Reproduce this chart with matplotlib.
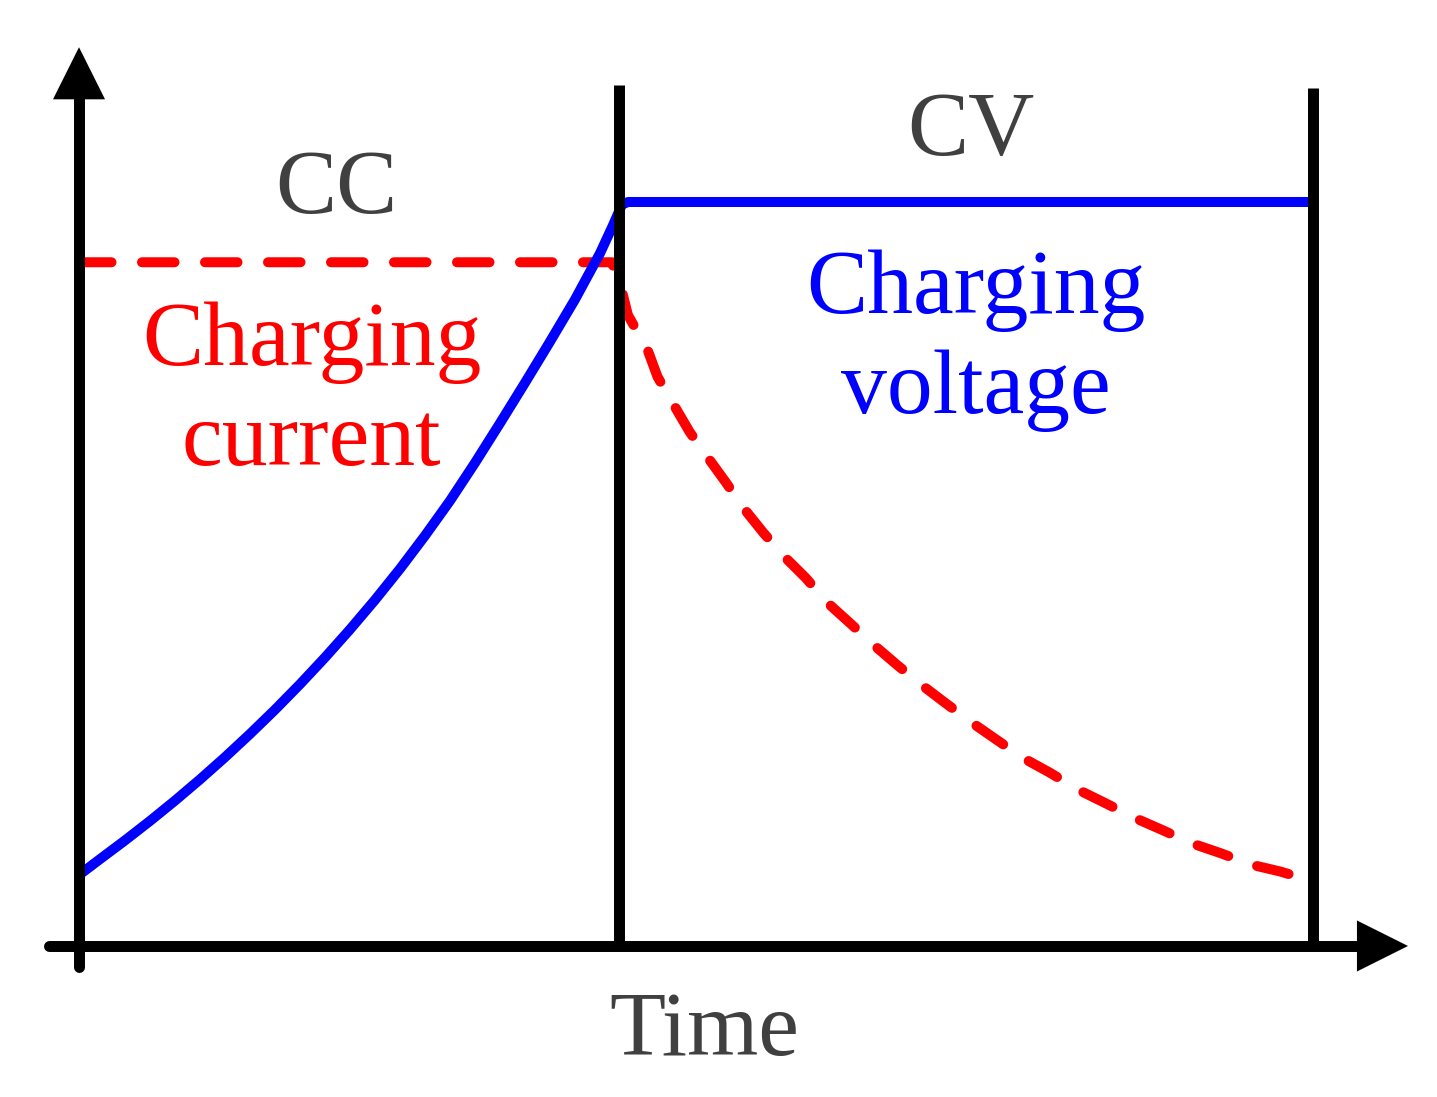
import matplotlib.pyplot as plt
from matplotlib.patches import Polygon

# time in arbitrary units (10 = end of CV phase), level in arbitrary units (10 = CV voltage)
voltage_t = [0.000, 0.170, 0.373, 0.576, 0.778, 0.981, 1.184, 1.387, 1.589, 1.792, 1.995,
             2.197, 2.400, 2.603, 2.805, 3.008, 3.211, 3.413, 3.616, 3.819, 4.021, 4.224,
             4.329, 4.402, 4.451, 10.000]
voltage_v = [0.954, 1.167, 1.419, 1.681, 1.953, 2.239, 2.538, 2.851, 3.176, 3.519, 3.879,
             4.255, 4.652, 5.071, 5.515, 5.985, 6.496, 7.027, 7.571, 8.125, 8.690, 9.312,
             9.688, 9.966, 10.000, 10.000]

current_t = [0.00, 4.32, 4.39, 4.45, 4.61, 4.69, 4.83, 4.95, 5.10, 5.24, 5.40, 5.55, 5.72,
             5.89, 6.07, 6.25, 6.44, 6.63, 6.83, 7.02, 7.24, 7.44, 7.65, 7.87, 8.10, 8.32,
             8.56, 8.78, 9.02, 9.25, 9.51, 9.74, 9.88]
current_i = [9.19, 9.19, 8.88, 8.48, 8.01, 7.65, 7.25, 6.91, 6.56, 6.24, 5.86, 5.55, 5.23,
             4.95, 4.61, 4.34, 4.05, 3.78, 3.51, 3.27, 3.00, 2.77, 2.53, 2.33, 2.10, 1.92,
             1.72, 1.56, 1.38, 1.25, 1.09, 1.00, 0.93]

phase_bounds = [4.374, 10.0]
phase_tops = [11.57, 11.53]
phase_labels = ["CC", "CV"]

GRAY = "#404040"
SERIF = ["Liberation Serif", "DejaVu Serif"]
FS = 66


def main() -> None:
    fig = plt.figure(figsize=(14.37, 10.97), dpi=100)
    ax = fig.add_axes([0, 0, 1, 1])
    ax.set_xlim(-0.6405, 11.009)
    ax.set_ylim(-2.030, 12.715)
    ax.axis("off")

    # curves
    ax.plot(current_t, current_i, color="#FF0000", lw=7.2, dashes=(3.25, 3.05),
            dash_capstyle="round", solid_joinstyle="round", zorder=2)
    ax.plot(voltage_t, voltage_v, color="#0000FF", lw=7.2, solid_capstyle="round",
            solid_joinstyle="round", zorder=3)

    # phase separators
    for t, top in zip(phase_bounds, phase_tops):
        ax.plot([t, t], [0, top], color="black", lw=7.9, solid_capstyle="butt", zorder=4)

    # axes with arrowheads
    ax.plot([0, 0], [-0.28, 11.40], color="black", lw=7.9, solid_capstyle="round", zorder=4)
    ax.add_patch(Polygon([[-0.211, 11.38], [0.211, 11.38], [0, 12.08]], closed=True,
                         facecolor="black", edgecolor="none", zorder=5))
    ax.plot([-0.243, 10.37], [0, 0], color="black", lw=7.9, solid_capstyle="round", zorder=4)
    ax.add_patch(Polygon([[10.36, -0.343], [10.36, 0.343], [10.774, 0]], closed=True,
                         facecolor="black", edgecolor="none", zorder=5))

    # labels
    ax.text(2.084, 9.85, phase_labels[0], fontsize=FS, color=GRAY, family=SERIF, ha="center", va="baseline")
    ax.text(7.232, 10.63, phase_labels[1], fontsize=FS, color=GRAY, family=SERIF, ha="center", va="baseline")
    ax.text(5.067, -1.465, "Time", fontsize=FS, color=GRAY, family=SERIF, ha="center", va="baseline")

    ax.text(1.885, 7.81, "Charging", fontsize=FS, color="#FF0000", family=SERIF, ha="center", va="baseline")
    ax.text(1.885, 6.465, "current", fontsize=FS, color="#FF0000", family=SERIF, ha="center", va="baseline")
    ax.text(7.272, 8.51, "Charging", fontsize=FS, color="#0000FF", family=SERIF, ha="center", va="baseline")
    ax.text(7.272, 7.16, "voltage", fontsize=FS, color="#0000FF", family=SERIF, ha="center", va="baseline")

    fig.savefig("out.png", dpi=100, facecolor="white")
    plt.close(fig)


if __name__ == "__main__":
    main()
